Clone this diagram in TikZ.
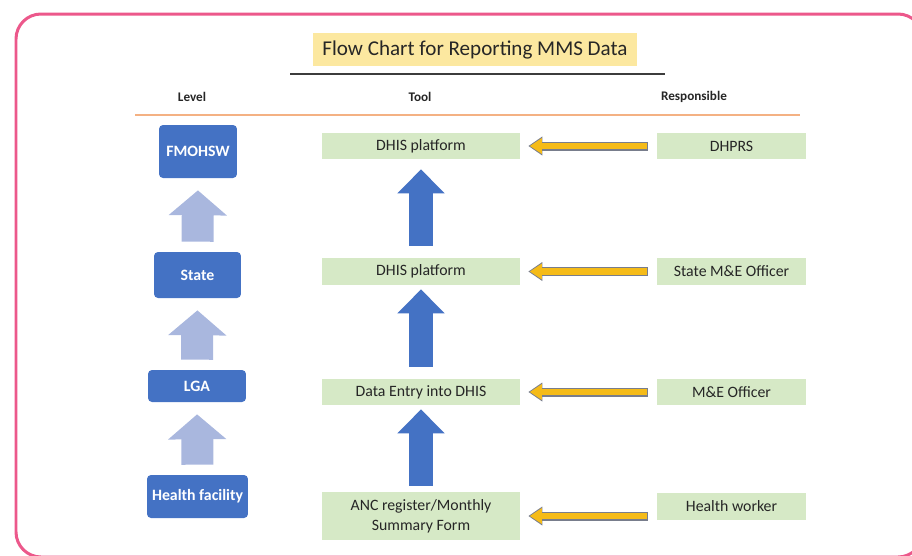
\documentclass[tikz,border=0pt]{standalone}
\usepackage{fontspec}
\setmainfont{Carlito}
\usetikzlibrary{arrows.meta}
\definecolor{framepink}{RGB}{236,88,139}
\definecolor{titleyellow}{RGB}{252,232,160}
\definecolor{linegray}{RGB}{60,60,60}
\definecolor{lineorange}{RGB}{244,177,131}
\definecolor{levelblue}{RGB}{68,114,196}
\definecolor{arrowlilac}{RGB}{169,183,222}
\definecolor{boxgreen}{RGB}{214,233,198}
\definecolor{arrowgold}{RGB}{245,187,24}
\definecolor{edgegray}{RGB}{120,125,140}
\definecolor{textdark}{RGB}{38,38,38}
\begin{document}
\begin{tikzpicture}[x=0.02cm,y=-0.02cm,
  head/.style={font=\fontsize{7.5}{9}\selectfont\bfseries,text=textdark},
  levelbox/.style={fill=levelblue,rounded corners=0.08cm,inner sep=0,text=white,font=\fontsize{9}{11}\selectfont\bfseries},
  toolbox/.style={fill=boxgreen,minimum width=3.96cm,minimum height=0.52cm,inner sep=0,align=center,text=textdark,font=\fontsize{9}{11.4}\selectfont},
  respbox/.style={toolbox,minimum width=2.98cm},
  levelarrow/.style={draw=arrowlilac,line width=0.64cm,-{Triangle[length=0.5cm,width=1.14cm]},shorten <=0.2cm,shorten >=0.24cm},
  toolarrow/.style={draw=levelblue,line width=0.48cm,-{Triangle[length=0.48cm,width=0.92cm]}},
  respedge/.style={draw=edgegray,line width=0.18cm,-{Triangle[length=0.28cm,width=0.36cm]},shorten <=0.18cm,shorten >=0.16cm},
  resparrow/.style={draw=arrowgold,line width=0.13cm,-{Triangle[length=0.24cm,width=0.3cm]},shorten <=0.2cm,shorten >=0.19cm}]
\clip (0,0) rectangle (912,555);
% draw the frame
\draw[framepink,line width=0.06cm,rounded corners=0.5cm] (16,14) rectangle (923,557);
% draw the title and the headers
\node[fill=titleyellow,minimum width=6.48cm,minimum height=0.66cm,font=\fontsize{12}{14}\selectfont,text=textdark] (title) at (475,49.5) {Flow Chart for Reporting MMS Data};
\draw[linegray,line width=0.03cm] (290,74) -- (665,74);
\node[head] (hlevel) at (192,97) {Level};
\node[head] (htool) at (420,97) {Tool};
\node[head] (hresp) at (694,97) {Responsible};
\draw[lineorange,line width=0.03cm] (135,115) -- (800,115);
% draw the levels
\node[levelbox,minimum width=1.56cm,minimum height=1.06cm] (fmohsw) at (198,151.5) {FMOHSW};
\node[levelbox,minimum width=1.74cm,minimum height=0.92cm] (state) at (197.5,275) {State};
\node[levelbox,minimum width=1.96cm,minimum height=0.64cm] (lga) at (197,386) {LGA};
\node[levelbox,minimum width=2.02cm,minimum height=0.86cm] (facility) at (197.5,496.5) {Health facility};
% draw the tools
\node[toolbox] (dhisA) at (421,146) {DHIS platform};
\node[toolbox,minimum height=0.54cm] (dhisB) at (421,271.5) {DHIS platform};
\node[toolbox] (entry) at (421,392) {Data Entry into DHIS};
\node[toolbox,minimum height=0.96cm] (anc) at (421,516) {ANC register/Monthly\\Summary Form};
% draw the responsibles
\node[respbox] (dhprs) at (731.5,146) {DHPRS};
\node[respbox,minimum height=0.54cm] (smeo) at (731.5,271.5) {State M\&E Officer};
\node[respbox] (meo) at (731.5,392) {M\&E Officer};
\node[respbox,minimum height=0.54cm] (worker) at (731.5,506.5) {Health worker};
% draw the arrows
\foreach \a/\b in {state/fmohsw,lga/state,facility/lga}
  \draw[levelarrow] (\a.north) -- (\b.south);
\foreach \a/\b/\s/\e in {dhisB/dhisA/0.24cm/0.2cm,entry/dhisB/0.24cm/0.08cm,anc/entry/0.12cm/0.08cm}
  \draw[toolarrow,shorten <=\s,shorten >=\e] (\a.north) -- (\b.south);
\foreach \a/\b in {dhprs/dhisA,smeo/dhisB,meo/entry}{
  \draw[respedge] (\a.west) -- (\b.east);
  \draw[resparrow] (\a.west) -- (\b.east);
}
\draw[respedge] (worker.west |- anc) -- (anc.east);
\draw[resparrow] (worker.west |- anc) -- (anc.east);
\end{tikzpicture}
\end{document}
